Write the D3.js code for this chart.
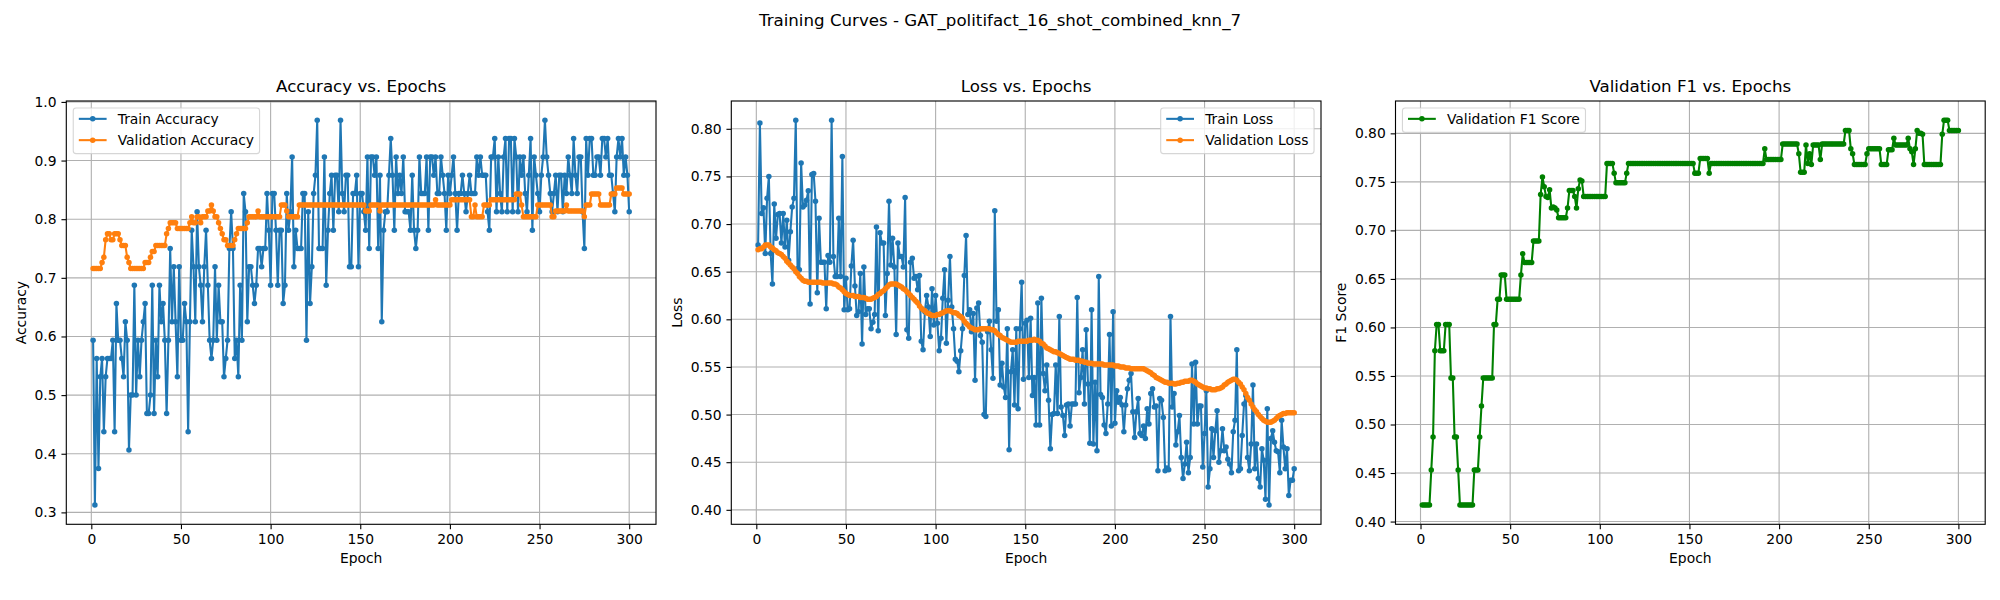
<!DOCTYPE html>
<html>
<head>
<meta charset="utf-8">
<script src="https://cdn.jsdelivr.net/npm/d3@7"></script>
<style>
  body { margin: 0; background: #fff; }
  svg { display: block; }
  text { font-family: "DejaVu Sans", sans-serif; fill: #000; }
</style>
</head>
<body>
<div id="chart"></div>
<script>
// epochs 1..300 (x categories)
const epochs = d3.range(1, 301);

const epochTicks = [0, 50, 100, 150, 200, 250, 300];
const accTicks = [0.3, 0.4, 0.5, 0.6, 0.7, 0.8, 0.9, 1.0];
const lossTicks = [0.40, 0.45, 0.50, 0.55, 0.60, 0.65, 0.70, 0.75, 0.80];
const f1Ticks = [0.40, 0.45, 0.50, 0.55, 0.60, 0.65, 0.70, 0.75, 0.80];

const trainAcc = [
  .59375,.3125,.5625,.375,.53125,.5625,.4375,.53125,.5625,.5625,
  .5625,.59375,.4375,.65625,.59375,.59375,.5625,.53125,.625,.59375,
  .40625,.5,.5,.6875,.5,.59375,.53125,.59375,.625,.65625,
  .46875,.46875,.5,.6875,.46875,.59375,.53125,.6875,.625,.65625,
  .59375,.46875,.59375,.75,.625,.71875,.625,.53125,.71875,.59375,
  .59375,.65625,.625,.4375,.625,.78125,.71875,.625,.8125,.71875,
  .6875,.625,.71875,.78125,.6875,.59375,.5625,.59375,.71875,.59375,
  .6875,.625,.625,.53125,.5625,.59375,.75,.8125,.75,.5625,
  .59375,.53125,.6875,.59375,.84375,.8125,.625,.71875,.71875,.6875,
  .65625,.6875,.75,.75,.71875,.75,.75,.84375,.78125,.6875,
  .84375,.84375,.78125,.6875,.78125,.78125,.65625,.6875,.84375,.78125,
  .8125,.90625,.71875,.78125,.75,.75,.75,.84375,.84375,.59375,
  .8125,.65625,.71875,.84375,.875,.96875,.75,.75,.75,.90625,
  .6875,.78125,.84375,.875,.78125,.875,.875,.8125,.96875,.84375,
  .8125,.875,.875,.71875,.71875,.84375,.84375,.875,.71875,.84375,
  .84375,.8125,.78125,.90625,.75,.90625,.90625,.875,.90625,.75,
  .875,.625,.78125,.8125,.8125,.875,.9375,.875,.78125,.90625,
  .84375,.875,.84375,.90625,.8125,.8125,.8125,.78125,.875,.78125,
  .75,.78125,.90625,.84375,.84375,.84375,.90625,.78125,.90625,.90625,
  .875,.90625,.84375,.84375,.90625,.875,.84375,.78125,.875,.84375,
  .875,.90625,.84375,.78125,.84375,.84375,.875,.84375,.8125,.84375,
  .875,.84375,.84375,.84375,.90625,.875,.90625,.875,.875,.875,
  .8125,.78125,.90625,.90625,.9375,.8125,.90625,.84375,.8125,.90625,
  .9375,.8125,.9375,.9375,.8125,.9375,.90625,.8125,.90625,.875,
  .90625,.84375,.8125,.875,.9375,.78125,.90625,.875,.84375,.8125,
  .875,.90625,.96875,.90625,.875,.84375,.8125,.84375,.875,.8125,
  .875,.875,.8125,.875,.84375,.90625,.875,.84375,.9375,.875,
  .84375,.90625,.90625,.8125,.75,.9375,.875,.9375,.9375,.875,
  .875,.90625,.90625,.875,.9375,.9375,.90625,.9375,.875,.875,
  .84375,.8125,.90625,.9375,.90625,.9375,.875,.90625,.875,.8125
];

const valAcc = [
  .716,.716,.716,.716,.716,.726,.735,.765,.775,.775,
  .765,.765,.775,.775,.775,.765,.755,.755,.755,.735,
  .726,.716,.716,.716,.716,.716,.716,.716,.716,.726,
  .726,.726,.735,.745,.745,.755,.755,.755,.755,.755,
  .755,.775,.784,.794,.794,.794,.794,.784,.784,.784,
  .784,.784,.784,.784,.794,.804,.794,.794,.804,.804,
  .794,.804,.804,.804,.814,.814,.824,.814,.804,.804,
  .794,.784,.775,.765,.765,.755,.755,.755,.755,.765,
  .775,.784,.784,.784,.784,.784,.794,.804,.804,.804,
  .804,.804,.814,.804,.804,.804,.804,.804,.804,.804,
  .804,.804,.804,.804,.804,.824,.824,.824,.814,.804,
  .804,.804,.804,.804,.804,.824,.824,.824,.824,.824,
  .824,.824,.824,.824,.824,.824,.824,.824,.824,.824,
  .824,.824,.824,.824,.824,.824,.824,.824,.824,.824,
  .824,.824,.824,.824,.824,.824,.824,.824,.824,.824,
  .824,.824,.814,.814,.814,.824,.824,.824,.824,.824,
  .814,.824,.824,.824,.824,.824,.824,.824,.824,.824,
  .824,.824,.824,.824,.824,.824,.824,.824,.824,.824,
  .824,.824,.824,.824,.824,.824,.824,.824,.824,.824,
  .824,.833,.824,.824,.824,.824,.824,.824,.824,.824,
  .833,.833,.833,.833,.833,.833,.833,.833,.833,.833,
  .833,.804,.804,.824,.804,.804,.804,.804,.824,.824,
  .824,.824,.833,.833,.833,.833,.833,.833,.833,.833,
  .833,.833,.833,.833,.833,.833,.843,.843,.843,.824,
  .804,.804,.804,.804,.804,.804,.804,.804,.824,.824,
  .824,.824,.824,.824,.824,.824,.804,.804,.814,.814,
  .814,.814,.814,.814,.824,.814,.814,.814,.814,.814,
  .814,.814,.814,.814,.804,.824,.824,.824,.843,.843,
  .843,.843,.843,.824,.824,.824,.824,.824,.824,.843,
  .843,.843,.853,.853,.853,.853,.843,.843,.843,.843
];

const trainLoss = [
  .678,.806,.711,.717,.669,.727,.750,.669,.637,.721,
  .685,.710,.711,.680,.711,.676,.704,.662,.692,.718,
  .727,.809,.653,.652,.764,.718,.720,.725,.735,.616,
  .752,.753,.724,.628,.706,.660,.660,.660,.611,.667,
  .660,.809,.666,.645,.645,.706,.645,.771,.610,.643,
  .610,.611,.656,.683,.635,.604,.608,.648,.574,.655,
  .605,.611,.611,.590,.597,.605,.697,.588,.691,.680,
  .680,.604,.648,.724,.657,.685,.655,.584,.680,.666,
  .666,.655,.728,.589,.580,.660,.664,.643,.645,.631,
  .646,.577,.568,.608,.625,.613,.582,.632,.594,.625,
  .596,.567,.580,.622,.652,.575,.620,.666,.613,.590,
  .558,.556,.545,.567,.590,.646,.688,.605,.610,.587,
  .606,.536,.612,.617,.583,.576,.500,.498,.587,.598,
  .568,.538,.714,.598,.610,.531,.554,.529,.518,.590,
  .463,.545,.568,.510,.590,.506,.590,.639,.537,
  .596,.599,.539,.601,.520,.539,.489,.617,.489,.622,
  .543,.525,.552,.515,.464,.500,.501,.552,.501,.603,
  .508,.499,.478,.510,.511,.488,.511,.511,.511,.623,
  .523,.539,.568,.511,.589,.532,.470,.610,.469,.534,
  .462,.645,.521,.518,.489,.480,.511,.584,.488,.608,
  .491,.525,.513,.518,.510,.482,.510,.527,.536,.543,
  .503,.476,.503,.517,.480,.478,.488,.475,.506,.490,
  .522,.527,.508,.509,.441,.517,.515,.497,.441,.444,
  .442,.603,.508,.522,.468,.482,.499,.455,.433,.448,
  .471,.439,.455,.553,.490,.555,.490,.509,.509,.445,
  .480,.525,.424,.443,.485,.455,.483,.504,.450,.462,
  .485,.462,.466,.453,.448,.439,.482,.494,.568,.441,
  .443,.478,.511,.520,.455,.441,.469,.531,.443,.469,
  .433,.424,.464,.452,.411,.506,.405,.475,.483,.471,
  .462,.461,.439,.494,.466,.443,.464,.415,.431,.431,
  .443
];

const valLoss = [
  .673,.674,.674,.676,.678,.678,.678,.676,.675,.673,
  .672,.670,.669,.668,.666,.664,.661,.659,.657,.655,
  .653,.650,.648,.645,.643,.641,.640,.640,.639,.639,
  .639,.639,.639,.639,.639,.639,.638,.638,.638,.638,
  .638,.638,.637,.637,.636,.634,.633,.631,.629,.627,
  .626,.625,.625,.625,.624,.624,.624,.623,.623,.623,
  .622,.621,.621,.621,.622,.623,.624,.626,.627,.629,
  .630,.632,.634,.636,.637,.637,.637,.637,.636,.635,
  .634,.632,.631,.629,.627,.625,.623,.621,.619,.617,
  .614,.612,.610,.609,.607,.606,.605,.604,.604,.604,
  .605,.605,.606,.607,.608,.609,.609,.609,.608,.607,
  .607,.606,.604,.603,.601,.598,.596,.594,.592,.591,
  .590,.589,.589,.589,.590,.590,.590,.590,.590,.590,
  .589,.589,.588,.586,.584,.583,.581,.580,.579,.578,
  .577,.576,.576,.576,.576,.577,.577,.577,.577,.577,
  .577,.578,.578,.578,.579,.578,.578,.577,.575,.574,
  .572,.570,.569,.568,.567,.566,.566,.565,.564,.563,
  .562,.561,.560,.559,.558,.558,.558,.557,.557,.557,
  .556,.556,.555,.555,.554,.554,.554,.553,.553,.553,
  .553,.553,.553,.552,.552,.552,.552,.552,.552,.551,
  .551,.551,.550,.550,.550,.549,.549,.549,.548,.548,
  .548,.548,.548,.548,.548,.548,.547,.546,.545,.544,
  .542,.541,.539,.538,.537,.536,.535,.534,.534,.533,
  .533,.533,.532,.532,.533,.533,.534,.534,.535,.535,
  .535,.536,.536,.535,.534,.532,.531,.530,.529,.528,
  .528,.527,.527,.526,.526,.526,.527,.527,.528,.529,
  .531,.532,.534,.535,.536,.537,.537,.536,.534,.532,
  .529,.526,.522,.518,.515,.511,.508,.505,.503,.500,
  .498,.496,.494,.493,.492,.492,.492,.493,.494,.496,
  .498,.499,.500,.501,.501,.502,.502,.502,.502,.502
];

const valF1 = [
  .417,.417,.417,.417,.417,.453,.487,.576,.603,.603,
  .576,.576,.576,.603,.603,.603,.548,.548,.487,.487,
  .453,.417,.417,.417,.417,.417,.417,.417,.417,.453,
  .453,.453,.487,.519,.548,.548,.548,.548,.548,.548,
  .603,.603,.629,.629,.654,.654,.654,.629,.629,.629,
  .629,.629,.629,.629,.629,.654,.676,.667,.667,.667,
  .667,.667,.689,.689,.689,.689,.737,.755,.745,.735,
  .734,.742,.723,.724,.723,.721,.713,.713,.713,.713,
  .713,.723,.741,.741,.741,.735,.723,.743,.752,.751,
  .735,.735,.735,.735,.735,.735,.735,.735,.735,.735,
  .735,.735,.735,.769,.769,.769,.769,.759,.749,.749,
  .749,.749,.749,.749,.759,.769,.769,.769,.769,.769,
  .769,.769,.769,.769,.769,.769,.769,.769,.769,.769,
  .769,.769,.769,.769,.769,.769,.769,.769,.769,.769,
  .769,.769,.769,.769,.769,.769,.769,.769,.769,.769,
  .769,.769,.759,.759,.759,.774,.774,.774,.774,.774,
  .759,.769,.769,.769,.769,.769,.769,.769,.769,.769,
  .769,.769,.769,.769,.769,.769,.769,.769,.769,.769,
  .769,.769,.769,.769,.769,.769,.769,.769,.769,.769,
  .769,.784,.773,.773,.773,.773,.773,.773,.773,.773,
  .773,.789,.789,.789,.789,.789,.789,.789,.789,.789,
  .779,.760,.760,.760,.788,.769,.779,.768,.788,.788,
  .788,.788,.773,.789,.789,.789,.789,.789,.789,.789,
  .789,.789,.789,.789,.789,.789,.803,.803,.803,.784,
  .779,.768,.768,.768,.768,.768,.768,.768,.779,.784,
  .784,.784,.784,.784,.784,.784,.768,.768,.768,.768,
  .783,.783,.783,.795,.788,.788,.788,.788,.788,.788,
  .788,.795,.784,.781,.768,.784,.803,.800,.800,.799,
  .768,.768,.768,.768,.768,.768,.768,.768,.768,.768,
  .799,.8135,.8135,.8135,.803,.803,.803,.803,.803,.803
];

const W = 2000, H = 600;
const panelLeft = [66.3, 731.3, 1395.5];
const panelW = 589.7;
const axTop = 101, axBottom = 524.3;
const fs = 13.89, titleFs = 16.67;
const C_BLUE = '#1f77b4', C_ORANGE = '#ff7f0e', C_GREEN = '#008000';

const svg = d3.select('#chart').append('svg')
  .attr('width', W).attr('height', H);
svg.append('rect').attr('width', W).attr('height', H).attr('fill', '#fff');

svg.append('text')
  .attr('x', W / 2).attr('y', 25.5)
  .attr('text-anchor', 'middle')
  .style('font-size', titleFs + 'px')
  .text('Training Curves - GAT_politifact_16_shot_combined_knn_7');

// matplotlib style autoscale: data extent padded 5%
function padExtent(vals) {
  const [lo, hi] = d3.extent(vals);
  const m = (hi - lo) * 0.05;
  return [lo - m, hi + m];
}

function drawPanel(idx, p) {
  const x0 = panelLeft[idx];
  const g = svg.append('g');

  const x = d3.scaleLinear()
    .domain(padExtent(epochs))
    .range([x0, x0 + panelW]);
  const y = d3.scaleLinear()
    .domain(padExtent(p.series.flatMap(s => s.values)))
    .range([axBottom, axTop]);

  // grid
  g.append('g').selectAll('line').data(epochTicks).join('line')
    .attr('x1', d => x(d)).attr('x2', d => x(d))
    .attr('y1', axTop).attr('y2', axBottom)
    .attr('stroke', '#b0b0b0').attr('stroke-width', 1.11);
  g.append('g').selectAll('line').data(p.yTicks).join('line')
    .attr('x1', x0).attr('x2', x0 + panelW)
    .attr('y1', d => y(d)).attr('y2', d => y(d))
    .attr('stroke', '#b0b0b0').attr('stroke-width', 1.11);

  // series
  const line = d3.line().x((d, i) => x(epochs[i])).y(d => y(d));
  p.series.forEach(s => {
    g.append('path').datum(s.values)
      .attr('d', line)
      .attr('fill', 'none')
      .attr('stroke', s.color)
      .attr('stroke-width', 2.08)
      .attr('stroke-linejoin', 'round');
    g.append('g').selectAll('circle').data(s.values).join('circle')
      .attr('cx', (d, i) => x(epochs[i]))
      .attr('cy', d => y(d))
      .attr('r', 2.75)
      .attr('fill', s.color);
  });

  // spines
  g.append('rect')
    .attr('x', x0).attr('y', axTop)
    .attr('width', panelW).attr('height', axBottom - axTop)
    .attr('fill', 'none').attr('stroke', '#000').attr('stroke-width', 1.11);

  // axes
  const xAxis = g.append('g')
    .attr('transform', `translate(0,${axBottom})`)
    .call(d3.axisBottom(x).tickValues(epochTicks).tickFormat(d3.format('d'))
      .tickSize(4.86).tickPadding(4.86).tickSizeOuter(0));
  const yAxis = g.append('g')
    .attr('transform', `translate(${x0},0)`)
    .call(d3.axisLeft(y).tickValues(p.yTicks).tickFormat(d3.format(p.yFmt))
      .tickSize(4.86).tickPadding(4.86).tickSizeOuter(0));
  [xAxis, yAxis].forEach(a => {
    a.select('.domain').remove();
    a.attr('font-family', null).attr('font-size', null);
    a.selectAll('line').attr('stroke', '#000').attr('stroke-width', 1.11);
    a.selectAll('text').style('font-size', fs + 'px').attr('fill', '#000');
  });

  // title and labels
  g.append('text')
    .attr('x', x0 + panelW / 2).attr('y', 91.5)
    .attr('text-anchor', 'middle')
    .style('font-size', titleFs + 'px')
    .text(p.title);
  g.append('text')
    .attr('x', x0 + panelW / 2).attr('y', 563.4)
    .attr('text-anchor', 'middle')
    .style('font-size', fs + 'px')
    .text('Epoch');

  let minX = x0;
  yAxis.selectAll('text').each(function () {
    const b = this.getBBox();
    const m = this.getCTM();
    minX = Math.min(minX, b.x + m.e);
  });
  const labelX = minX - 5.56 - 3.3;
  g.append('text')
    .attr('transform', `translate(${labelX},${(axTop + axBottom) / 2}) rotate(-90)`)
    .attr('text-anchor', 'middle')
    .style('font-size', fs + 'px')
    .text(p.ylabel);

  // legend
  const lg = g.append('g');
  const labels = lg.selectAll('text.lab').data(p.series).join('text')
    .attr('class', 'lab')
    .style('font-size', fs + 'px')
    .text(d => d.label);
  let maxW = 0;
  labels.each(function () { maxW = Math.max(maxW, this.getComputedTextLength()); });
  const boxW = 5.56 + 27.8 + 11.1 + maxW + 5.56;
  const boxH = 24.4 + (p.series.length - 1) * 21.3;
  const bx = p.legend === 'right' ? x0 + panelW - 6.95 - boxW : x0 + 6.95;
  const by = axTop + 6.95;
  lg.insert('rect', 'text')
    .attr('x', bx).attr('y', by)
    .attr('width', boxW).attr('height', boxH)
    .attr('rx', 2.8).attr('ry', 2.8)
    .attr('fill', '#fff').attr('fill-opacity', 0.8)
    .attr('stroke', '#cccccc').attr('stroke-opacity', 0.8)
    .attr('stroke-width', 1.11);
  p.series.forEach((s, i) => {
    const cy = by + 10.9 + i * 21.3;
    lg.append('line')
      .attr('x1', bx + 5.56).attr('x2', bx + 5.56 + 27.8)
      .attr('y1', cy).attr('y2', cy)
      .attr('stroke', s.color).attr('stroke-width', 2.08);
    lg.append('circle')
      .attr('cx', bx + 5.56 + 13.9).attr('cy', cy).attr('r', 2.75)
      .attr('fill', s.color);
  });
  labels
    .attr('x', bx + 5.56 + 27.8 + 11.1)
    .attr('y', (d, i) => by + 10.9 + i * 21.3 + 5);
  lg.raise();
}

drawPanel(0, {
  title: 'Accuracy vs. Epochs',
  ylabel: 'Accuracy',
  yTicks: accTicks,
  yFmt: '.1f',
  legend: 'left',
  series: [
    { values: trainAcc, color: C_BLUE, label: 'Train Accuracy' },
    { values: valAcc, color: C_ORANGE, label: 'Validation Accuracy' }
  ]
});

drawPanel(1, {
  title: 'Loss vs. Epochs',
  ylabel: 'Loss',
  yTicks: lossTicks,
  yFmt: '.2f',
  legend: 'right',
  series: [
    { values: trainLoss, color: C_BLUE, label: 'Train Loss' },
    { values: valLoss, color: C_ORANGE, label: 'Validation Loss' }
  ]
});

drawPanel(2, {
  title: 'Validation F1 vs. Epochs',
  ylabel: 'F1 Score',
  yTicks: f1Ticks,
  yFmt: '.2f',
  legend: 'left',
  series: [
    { values: valF1, color: C_GREEN, label: 'Validation F1 Score' }
  ]
});
</script>
</body>
</html>
